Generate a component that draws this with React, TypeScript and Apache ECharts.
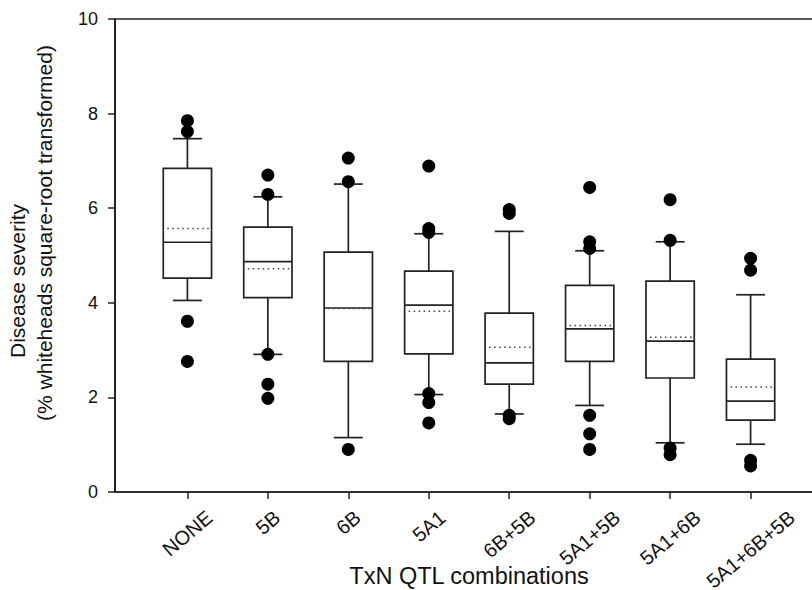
import React, { useEffect, useRef } from 'react';
import * as echarts from 'echarts';

const categories = ['NONE', '5B', '6B', '5A1', '6B+5B', '5A1+5B', '5A1+6B', '5A1+6B+5B'];
const lowerWhisker = [4.05, 2.91, 1.15, 2.06, 1.65, 1.83, 1.04, 1.01];
const q1 = [4.52, 4.11, 2.76, 2.92, 2.28, 2.76, 2.41, 1.52];
const median = [5.28, 4.87, 3.89, 3.95, 2.73, 3.45, 3.19, 1.92];
const q3 = [6.84, 5.6, 5.07, 4.67, 3.78, 4.37, 4.46, 2.81];
const upperWhisker = [7.47, 6.24, 6.51, 5.46, 5.51, 5.1, 5.29, 4.17];
const mean = [5.57, 4.72, 3.88, 3.82, 3.06, 3.52, 3.27, 2.22];
const outliers = [
  [7.85, 7.62, 3.61, 2.76],
  [6.7, 6.29, 2.91, 2.28, 1.98],
  [7.06, 6.56, 0.9],
  [6.89, 5.57, 5.49, 2.08, 1.89, 1.46],
  [5.97, 5.89, 1.62, 1.55],
  [6.44, 5.29, 5.15, 1.62, 1.23, 0.9],
  [6.18, 5.32, 0.93, 0.79],
  [4.94, 4.69, 0.67, 0.55],
];
const yMin = 0;
const yMax = 10;
const yInterval = 2;

const FONT = '"Liberation Sans", Arial, Helvetica, sans-serif';
const LINE = '#222';

export default function App() {
  const ref = useRef<HTMLDivElement>(null);
  useEffect(() => {
    document.body.style.margin = '0';
    if (!ref.current) return;
    const chart = echarts.init(ref.current, undefined, { renderer: 'svg' });

    const positions = categories.map((_, i) => i + 1);
    const tickFont = 20;
    const angleDeg = 40;
    const th = (angleDeg * Math.PI) / 180;
    const canvas = document.createElement('canvas');
    const ctx = canvas.getContext('2d');
    const rich: Record<string, any> = {};
    categories.forEach((c, i) => {
      let w = c.length * tickFont * 0.6;
      if (ctx) {
        ctx.font = `${tickFont}px ${FONT}`;
        w = ctx.measureText(c).width;
      }
      const ext = w * Math.sin(th) + tickFont * Math.cos(th);
      rich['l' + i] = {
        fontSize: tickFont,
        fontFamily: FONT,
        color: '#111',
        padding: [ext * Math.cos(th), ext * Math.sin(th), 0, 0],
      };
    });

    const boxData = categories.map((_, i) => [
      positions[i],
      lowerWhisker[i],
      q1[i],
      median[i],
      q3[i],
      upperWhisker[i],
      mean[i],
    ]);
    const outlierData: number[][] = [];
    outliers.forEach((arr, i) => arr.forEach((v) => outlierData.push([positions[i], v])));

    const stroke = { stroke: LINE, lineWidth: 1.7, fill: 'none' };

    chart.setOption({
      animation: false,
      textStyle: { fontFamily: FONT },
      grid: {
        left: 115,
        right: -11,
        top: 19,
        bottom: 98,
        containLabel: false,
        outerBoundsMode: 'none',
        show: true,
        borderColor: LINE,
        borderWidth: 1.7,
        backgroundColor: 'transparent',
      },
      xAxis: {
        type: 'value',
        min: 0.1,
        max: 8.9,
        name: 'TxN QTL combinations',
        nameLocation: 'middle',
        nameGap: 72,
        nameMoveOverlap: false,
        nameTextStyle: { fontSize: 23.5, color: '#111', fontFamily: FONT, verticalAlign: 'top' },
        axisLine: { show: true, lineStyle: { color: LINE, width: 1.7 } },
        axisTick: {
          show: true,
          length: 7,
          customValues: positions,
          lineStyle: { color: LINE, width: 1.5 },
        },
        splitLine: { show: false },
        axisLabel: {
          customValues: positions,
          rotate: angleDeg,
          align: 'center',
          verticalAlign: 'middle',
          margin: 15,
          formatter: (v: number) => {
            const i = Math.round(v) - 1;
            if (i < 0 || i >= categories.length) return '';
            return `{l${i}|${categories[i]}}`;
          },
          rich,
        },
      },
      yAxis: {
        type: 'value',
        min: yMin,
        max: yMax,
        interval: yInterval,
        axisLine: { show: true, lineStyle: { color: LINE, width: 1.7 } },
        axisTick: { show: true, length: 7, lineStyle: { color: LINE, width: 1.5 } },
        splitLine: { show: false },
        axisLabel: { fontSize: 18, color: '#111', margin: 17, fontFamily: FONT },
      },
      graphic: [
        {
          type: 'text',
          x: 17,
          y: 281,
          rotation: Math.PI / 2,
          style: {
            text: 'Disease severity',
            fontSize: 21,
            fontFamily: FONT,
            fill: '#111',
            align: 'center',
            verticalAlign: 'middle',
          },
        },
        {
          type: 'text',
          x: 44,
          y: 233,
          rotation: Math.PI / 2,
          style: {
            text: '(% whiteheads square-root transformed)',
            fontSize: 21,
            fontFamily: FONT,
            fill: '#111',
            align: 'center',
            verticalAlign: 'middle',
          },
        },
      ],
      series: [
        {
          type: 'custom',
          data: boxData,
          z: 2,
          renderItem: (params: any, api: any) => {
            const x = api.value(0);
            const lo = api.coord([x, api.value(1)]);
            const b1 = api.coord([x, api.value(2)]);
            const md = api.coord([x, api.value(3)]);
            const b3 = api.coord([x, api.value(4)]);
            const hi = api.coord([x, api.value(5)]);
            const mn = api.coord([x, api.value(6)]);
            const boxW = api.size([0.6, 0])[0];
            const capW = api.size([0.36, 0])[0];
            const cx = lo[0];
            return {
              type: 'group',
              children: [
                { type: 'line', shape: { x1: cx, y1: hi[1], x2: cx, y2: b3[1] }, style: stroke },
                { type: 'line', shape: { x1: cx, y1: b1[1], x2: cx, y2: lo[1] }, style: stroke },
                { type: 'line', shape: { x1: cx - capW / 2, y1: hi[1], x2: cx + capW / 2, y2: hi[1] }, style: stroke },
                { type: 'line', shape: { x1: cx - capW / 2, y1: lo[1], x2: cx + capW / 2, y2: lo[1] }, style: stroke },
                {
                  type: 'rect',
                  shape: { x: cx - boxW / 2, y: b3[1], width: boxW, height: b1[1] - b3[1] },
                  style: { stroke: LINE, lineWidth: 1.7, fill: '#fff' },
                },
                { type: 'line', shape: { x1: cx - boxW / 2, y1: md[1], x2: cx + boxW / 2, y2: md[1] }, style: stroke },
                {
                  type: 'line',
                  shape: { x1: cx - boxW / 2 + 4, y1: mn[1], x2: cx + boxW / 2 - 1, y2: mn[1] },
                  style: { stroke: '#444', lineWidth: 1.5, lineDash: [1.5, 3.5], fill: 'none' },
                },
              ],
            };
          },
        },
        {
          type: 'scatter',
          data: outlierData,
          symbol: 'circle',
          symbolSize: 13,
          z: 3,
          itemStyle: { color: '#000', opacity: 1 },
        },
      ],
    });
    return () => chart.dispose();
  }, []);
  return <div ref={ref} style={{ width: 812, height: 590 }} />;
}
